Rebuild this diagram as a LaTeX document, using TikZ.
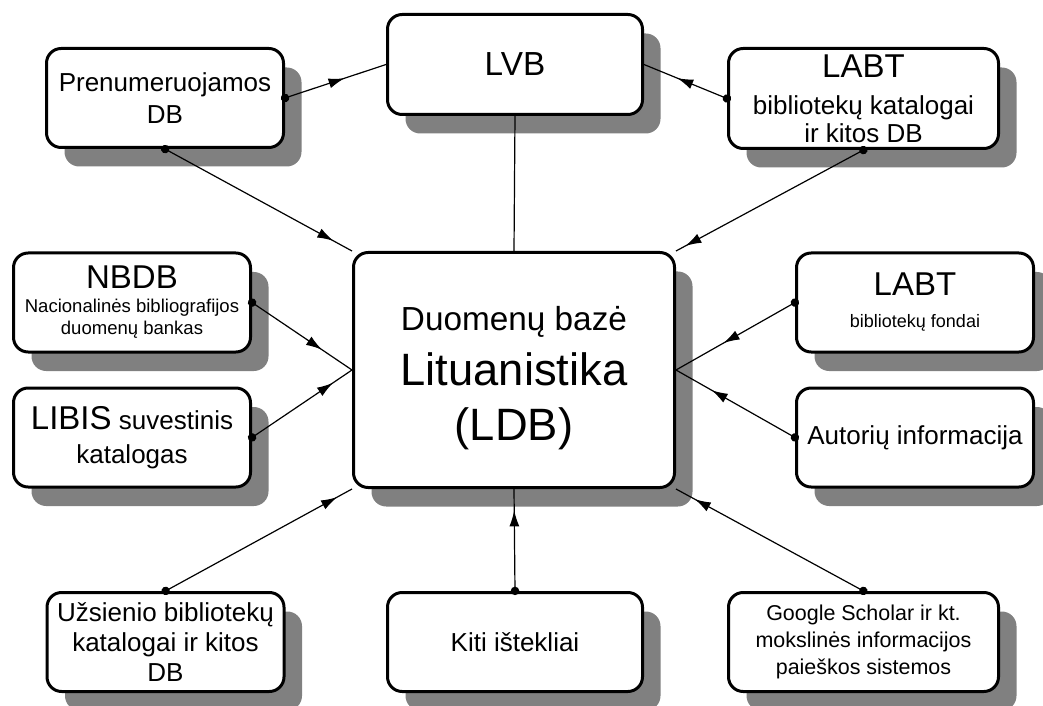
\documentclass[tikz,border=0pt]{standalone}
\usepackage{fontspec}
\setmainfont{Liberation Sans}
\usetikzlibrary{arrows.meta, shadows, decorations.markings}

\begin{document}
\begin{tikzpicture}[x=0.75pt, y=-0.75pt,
    box/.style={draw, fill=white, line width=2.25pt, rounded corners=11pt,
        align=center, inner sep=0pt,
        minimum width=177.75pt, minimum height=74.25pt,
        general shadow={fill=gray, shadow xshift=13.5pt, shadow yshift=-14.25pt}},
    wide/.style={minimum width=191.25pt, minimum height=75pt},
    wider/.style={minimum width=202.5pt, minimum height=75pt},
    feed/.style={line width=0.9pt, postaction={decorate},
        decoration={markings,
            mark=at position 0.001 with {\fill (0,0) circle (3.2pt);},
            mark=at position #1 with {\arrow{Latex[length=12pt, width=7.5pt]}}}}]
    \path[use as bounding box, clip] (0,0) rectangle (1043,706);

    \node[box, font=\fontsize{19.5pt}{24pt}\selectfont] (pren) at (165, 98)
        {Prenumeruojamos\\DB};
    \node[box, wide, font=\fontsize{25pt}{30pt}\selectfont] (lvb) at (515, 64.5)
        {LVB};
    \node[box, wider, font=\fontsize{19.5pt}{21pt}\selectfont] (labtk) at (863.5, 98.5)
        {\fontsize{24.75pt}{21pt}\selectfont LABT\\[7pt]
         bibliotekų katalogai\\ir kitos DB};
    \node[box, font=\fontsize{13.9pt}{16.5pt}\selectfont] (nbdb) at (132, 302.5)
        {\fontsize{24.75pt}{16.5pt}\selectfont NBDB\\[1.5pt]
         Nacionalinės bibliografijos\\duomenų bankas};
    \node[box, font=\fontsize{19.5pt}{25.5pt}\selectfont] (libis) at (132, 437.5)
        {{\fontsize{24.75pt}{25.5pt}\selectfont LIBIS} suvestinis\\katalogas};
    \node[box, minimum width=240.75pt, minimum height=176.25pt,
        font=\fontsize{34pt}{41.25pt}\selectfont] (ldb) at (514, 370)
        {\fontsize{25pt}{41.25pt}\selectfont\rule{0pt}{30pt}Duomenų bazė\\Lituanistika\\(LDB)};
    \node[box, font=\fontsize{13.5pt}{24pt}\selectfont] (labtf) at (915, 302.5)
        {\fontsize{24.75pt}{24pt}\selectfont LABT\\bibliotekų fondai};
    \node[box, font=\fontsize{19.5pt}{24pt}\selectfont] (autor) at (915, 437.5)
        {Autorių informacija};
    \node[box, font=\fontsize{19.5pt}{22.5pt}\selectfont] (uzs) at (165.5, 642)
        {Užsienio bibliotekų\\katalogai ir kitos\\DB};
    \node[box, wide, minimum height=74.25pt,
        font=\fontsize{19.5pt}{24pt}\selectfont] (kiti) at (515, 642)
        {Kiti ištekliai};
    \node[box, wider, minimum height=74.25pt,
        font=\fontsize{16.1pt}{20pt}\selectfont] (google) at (863.5, 642)
        {Google Scholar ir kt.\\mokslinės informacijos\\paieškos sistemos};

    % links into the database
    \draw[line width=0.9pt] (lvb.south) -- (ldb.north);
    \draw[feed=0.59] (pren.east) -- (lvb.west);
    \draw[feed=0.9] (pren.south) -- (ldb.north west);
    \draw[feed=0.6] (labtk.west) -- (lvb.east);
    \draw[feed=0.95] (labtk.south) -- (ldb.north east);
    \draw[feed=0.7] (nbdb.east) -- (ldb.west);
    \draw[feed=0.81] (libis.east) -- (ldb.west);
    \draw[feed=0.6] (labtf.west) -- (ldb.east);
    \draw[feed=0.7] (autor.west) -- (ldb.east);
    \draw[feed=0.92] (uzs.north) -- (ldb.south west);
    \draw[feed=0.79] (kiti.north) -- (ldb.south);
    \draw[feed=0.9] (google.north) -- (ldb.south east);
\end{tikzpicture}
\end{document}
